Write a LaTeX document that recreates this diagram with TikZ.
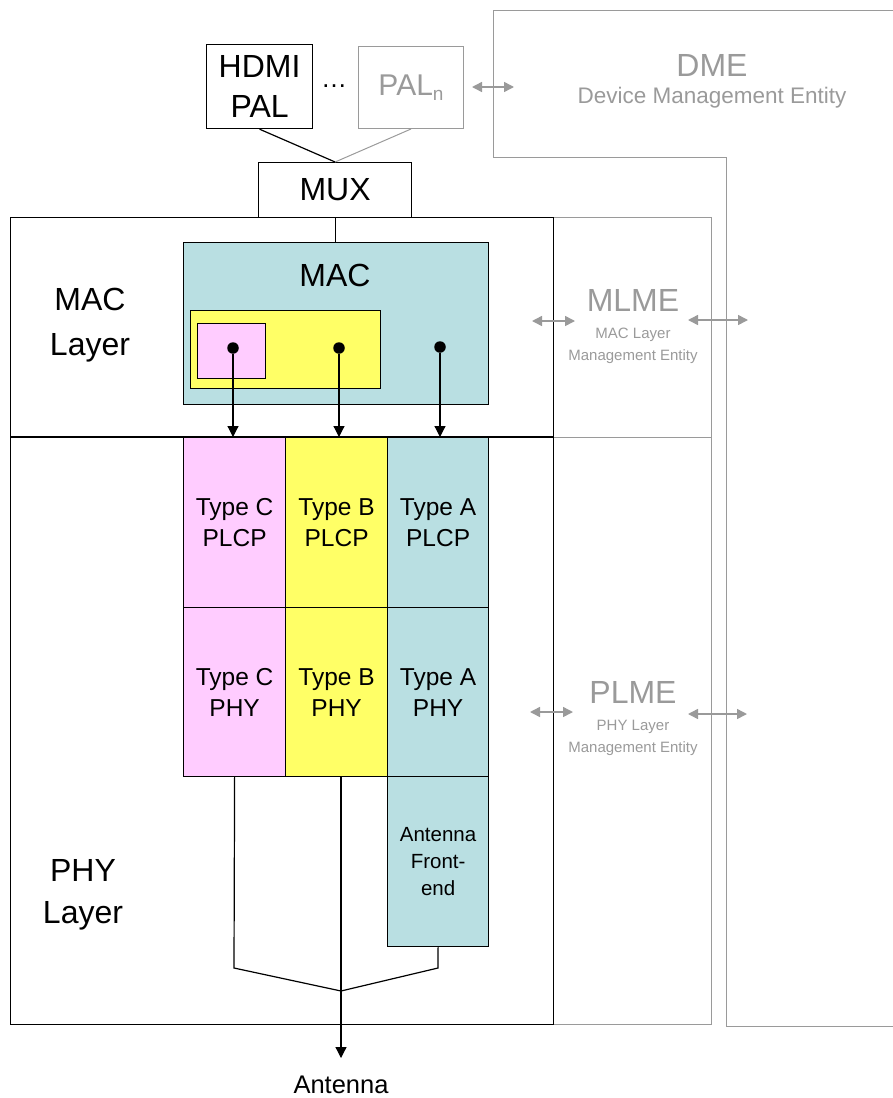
\documentclass[tikz,border=0pt]{standalone}
\usepackage{fontspec}
\setmainfont{Liberation Sans}
\usetikzlibrary{arrows.meta}
\definecolor{gcol}{HTML}{9A9A9A}
\definecolor{macblue}{HTML}{B9DFE2}
\definecolor{ylw}{HTML}{FFFF66}
\definecolor{pnk}{HTML}{FFCCFF}
\newcommand{\fsz}[2]{\fontsize{#1}{#2}\selectfont}
\begin{document}
\begin{tikzpicture}[x=1pt,y=-1pt,
 box/.style={draw=black, line width=1.2pt, inner sep=0pt, align=center, text=black},
 gbox/.style={draw=gcol, line width=1pt, inner sep=0pt, align=center, text=gcol},
 lbl/.style={inner sep=0pt, align=center},
 glbl/.style={inner sep=0pt, align=center, text=gcol},
 dotn/.style={circle, fill=black, inner sep=0pt, minimum size=11.5pt},
 arr/.style={-{Triangle[length=11pt,width=11pt]}, line width=1.2pt},
 garr/.style={{Triangle[length=10pt,width=10pt]}-{Triangle[length=10pt,width=10pt]}, draw=gcol, line width=1.5pt},
 big/.style={font=\fsz{32}{40}},
 mid/.style={font=\fsz{24.5}{31}},
]
\useasboundingbox (0,0) rectangle (893,1098);

% DME outline
\draw[gcol, line width=1pt] (893,10) -- (493,10) -- (493,157) -- (726,157) -- (726,1026) -- (893,1026);
\node[glbl, font=\fsz{32}{38}] (dmeT) at (712,65) {DME};
\node[glbl, font=\fsz{22.5}{26}] (dmeS) at (712,98) {Device Management Entity};

% management entity column
\node[gbox, minimum width=158, minimum height=807, anchor=north west] (lme) at (553,217) {};
\draw[gcol, line width=1pt] (553,437) -- (711,437);
\node[glbl, font=\fsz{32}{38}] (mlmeT) at (633,300) {MLME};
\node[glbl, font=\fsz{15}{22.5}] (mlmeS) at (633,346) {MAC Layer\\Management Entity};
\node[glbl, font=\fsz{32}{38}] (plmeT) at (633,692) {PLME};
\node[glbl, font=\fsz{15}{22.5}] (plmeS) at (633,738) {PHY Layer\\Management Entity};

% main box
\node[box, minimum width=543, minimum height=807, anchor=north west] (main) at (10,217) {};
\draw[line width=1.2pt] (10,437) -- (553,437);
\node[lbl, font=\fsz{32}{45}] (macL) at (90,325) {MAC\\Layer};
\node[lbl, font=\fsz{32}{42}] (phyL) at (83,895) {PHY\\Layer};

% PALs and MUX
\node[box, big, minimum width=106, minimum height=84, anchor=north west] (hdmi) at (206,44) {HDMI\\PAL};
\node[gbox, font=\fsz{30}{36}, minimum width=105, minimum height=82, anchor=north west] (paln) at (358,46) {PAL\raisebox{-0.3ex}{\fsz{19}{20}n}};
\node[lbl, font=\fsz{26}{30}] (dots) at (334,86) {…};
\node[box, big, minimum width=153, minimum height=55, anchor=north west] (mux) at (258,162) {MUX};
\draw[line width=1.2pt] (hdmi.south) -- (mux.north);
\draw[gcol, line width=1pt] (paln.south) -- (mux.north);
\draw[garr] (472,87) coordinate (pa) -- (514,87) coordinate (pb);

% MAC
\node[box, fill=macblue, minimum width=305, minimum height=162, anchor=north west] (mac) at (183,242) {};
\node[lbl, big] (macT) at (335,275) {MAC};
\node[box, fill=ylw, minimum width=190, minimum height=78, anchor=north west] (ybox) at (190,310) {};
\node[box, fill=pnk, minimum width=68, minimum height=55, anchor=north west] (pbox) at (197,323) {};
\draw[line width=1.2pt] (mux.south) -- (mux.south |- mac.north);
\node[dotn] (d1) at (233,348) {};
\node[dotn] (d2) at (339,348) {};
\node[dotn] (d3) at (440,347) {};

% PHY columns
\node[box, mid, fill=pnk, minimum width=102, minimum height=170, anchor=north west] (cplcp) at (183,437) {Type C\\PLCP};
\node[box, mid, fill=ylw, minimum width=102, minimum height=170, anchor=north west] (bplcp) at (285,437) {Type B\\PLCP};
\node[box, mid, fill=macblue, minimum width=101, minimum height=170, anchor=north west] (aplcp) at (387,437) {Type A\\PLCP};
\node[box, mid, fill=pnk, minimum width=102, minimum height=169, anchor=north west] (cphy) at (183,607) {Type C\\PHY};
\node[box, mid, fill=ylw, minimum width=102, minimum height=169, anchor=north west] (bphy) at (285,607) {Type B\\PHY};
\node[box, mid, fill=macblue, minimum width=101, minimum height=169, anchor=north west] (aphy) at (387,607) {Type A\\PHY};
\node[box, font=\fsz{20.5}{27}, fill=macblue, minimum width=101, minimum height=170, anchor=north west] (afe) at (387,776) {Antenna\\Front-\\end};

\draw[arr] (d1) -- (d1 |- cplcp.north);
\draw[arr] (d2) -- (d2 |- bplcp.north);
\draw[arr] (d3) -- (d3 |- aplcp.north);

% antenna combining
\coordinate (j1) at (234,968);
\coordinate (j3) at (438,968);
\coordinate (jm) at (341,991);
\coordinate (antTop) at (341,1058);
\draw[line width=1.2pt] (cphy.south) -- (j1) -- (jm);
\draw[line width=1.2pt] (bphy.south -| jm) -- (jm);
\draw[line width=1.2pt] (afe.south) -- (j3) -- (jm);
\draw[arr] (jm) -- (antTop);
\node[lbl, font=\fsz{25.5}{28}] (ant) at (341,1085) {Antenna};

% management arrows
\draw[garr] (532,321) coordinate (m1) -- (575,321) coordinate (m2);
\draw[garr] (688,320) coordinate (m3) -- (748,320) coordinate (m4);
\draw[garr] (530,712) coordinate (p1) -- (573,712) coordinate (p2);
\draw[garr] (688,714) coordinate (p3) -- (747,714) coordinate (p4);
\end{tikzpicture}
\end{document}
